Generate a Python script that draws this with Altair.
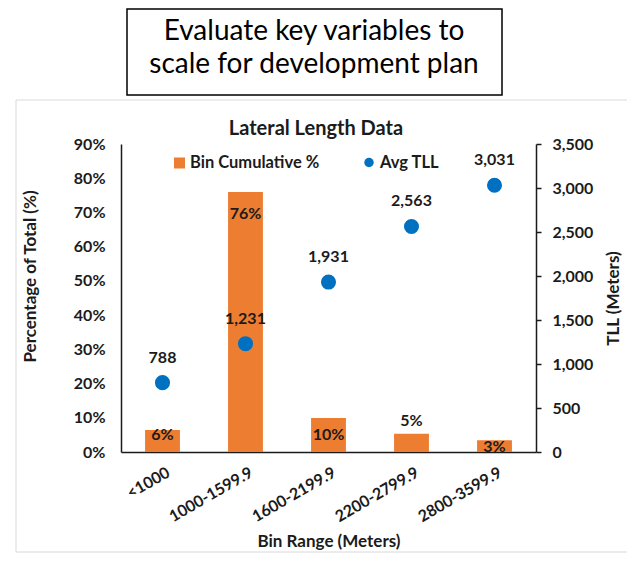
import altair as alt
import pandas as pd

# ---- data ----
categories = ["<1000", "1000-1599.9", "1600-2199.9", "2200-2799.9", "2800-3599.9"]
bin_pct = [0.064, 0.760, 0.099, 0.053, 0.034]
avg_tll = [788, 1231, 1931, 2563, 3031]
pct_label_at = [0.050, 0.695, 0.050, 0.091, 0.015]
pct_ticks = [0.0, 0.1, 0.2, 0.3, 0.4, 0.5, 0.6, 0.7, 0.8, 0.9]
tll_ticks = [0, 500, 1000, 1500, 2000, 2500, 3000, 3500]

ORANGE = "#ED7D31"
BLUE = "#0070C0"
INK = "#1b1b1b"
FONT = "Lato"
W, H = 415, 308

df = pd.DataFrame({"bin": categories, "pct": bin_pct, "tll": avg_tll,
                   "label_at": pct_label_at})
one = alt.Data(values=[{"k": 1}])

x_axis = alt.Axis(title="Bin Range (Meters)", labelAngle=-30, labelAlign="right",
                  labelBaseline="top", labelPadding=12, labelOffset=2, ticks=False,
                  domainColor=INK, domainWidth=1.5,
                  titleX=W / 2, titleY=89, titleAlign="center", titleBaseline="middle")
x_scale = alt.Scale(paddingInner=0.58, paddingOuter=0.29)

left_axis = alt.Axis(orient="left", format=".0%", values=pct_ticks, grid=False,
                     ticks=False, labelPadding=16, domainColor=INK, domainWidth=1.5,
                     title="Percentage of Total (%)", titleAngle=270,
                     titleX=-91, titleY=132, titleAlign="center", titleBaseline="middle")
left_scale = alt.Scale(domain=[0, 0.9], nice=False, zero=True)

right_axis = alt.Axis(orient="right", format=",.0f", values=tll_ticks, grid=False,
                      tickSize=5, tickColor=INK, tickWidth=1.5, labelPadding=11,
                      domainColor=INK, domainWidth=1.5,
                      title="TLL (Meters)", titleAngle=270, titleX=77,
                      titleY=H / 2, titleAlign="center", titleBaseline="middle")
right_scale = alt.Scale(domain=[0, 3500], nice=False)

x_enc = alt.X("bin:N", sort=categories, scale=x_scale, axis=x_axis)

bars = alt.Chart(df).mark_bar(color=ORANGE).encode(
    x=x_enc,
    y=alt.Y("pct:Q", scale=left_scale, axis=left_axis),
)
bar_labels = alt.Chart(df).mark_text(
    font=FONT, fontSize=16, fontWeight="bold", color=INK, baseline="middle"
).encode(
    x=x_enc,
    y=alt.Y("label_at:Q", scale=left_scale, axis=left_axis),
    text=alt.Text("pct:Q", format=".0%"),
)
left = alt.layer(bars, bar_labels)

points = alt.Chart(df).mark_circle(size=227, color=BLUE, opacity=1).encode(
    x=x_enc,
    y=alt.Y("tll:Q", scale=right_scale, axis=right_axis),
)
point_labels = alt.Chart(df).mark_text(
    font=FONT, fontSize=16, fontWeight="bold", color=INK, baseline="middle", dy=-25
).encode(
    x=x_enc,
    y=alt.Y("tll:Q", scale=right_scale, axis=right_axis),
    text=alt.Text("tll:Q", format=",.0f"),
)
right = alt.layer(points, point_labels)

# ---- decorations (frame, heading box, chart title, legend) ----
frame = alt.Chart(one).mark_rect(fillOpacity=0, stroke="#d9d9d9", strokeWidth=1).encode(
    x=alt.value(-105), x2=alt.value(W + 120), y=alt.value(-44), y2=alt.value(H + 100))
box = alt.Chart(one).mark_rect(fill="white", stroke="black", strokeWidth=1.5).encode(
    x=alt.value(6), x2=alt.value(381), y=alt.value(-135), y2=alt.value(-49))
box_l1 = alt.Chart(one).mark_text(font=FONT, fontSize=28, color="black",
                                   baseline="alphabetic", align="center").encode(
    x=alt.value(193), y=alt.value(-104), text=alt.value("Evaluate key variables to"))
box_l2 = alt.Chart(one).mark_text(font=FONT, fontSize=28, color="black",
                                   baseline="alphabetic", align="center").encode(
    x=alt.value(193), y=alt.value(-71), text=alt.value("scale for development plan"))
title = alt.Chart(one).mark_text(font=FONT, fontSize=20, fontWeight="bold", color=INK,
                                  baseline="middle", align="center").encode(
    x=alt.value(195), y=alt.value(-15), text=alt.value("Lateral Length Data"))
leg_sq = alt.Chart(one).mark_square(size=121, color=ORANGE, opacity=1).encode(
    x=alt.value(58.5), y=alt.value(19))
leg_sq_t = alt.Chart(one).mark_text(font=FONT, fontSize=16.5, fontWeight="bold", color=INK,
                                     baseline="middle", align="left").encode(
    x=alt.value(69), y=alt.value(19), text=alt.value("Bin Cumulative %"))
leg_dot = alt.Chart(one).mark_circle(size=90, color=BLUE, opacity=1).encode(
    x=alt.value(248), y=alt.value(18.5))
leg_dot_t = alt.Chart(one).mark_text(font=FONT, fontSize=16.5, fontWeight="bold", color=INK,
                                      baseline="middle", align="left").encode(
    x=alt.value(259), y=alt.value(19), text=alt.value("Avg TLL"))

chart = alt.layer(
    frame, box, box_l1, box_l2, title, left, right, leg_sq, leg_sq_t, leg_dot, leg_dot_t
).resolve_scale(y="independent").properties(
    width=W, height=H,
    padding={"left": 113, "top": 136, "right": 91, "bottom": 101},
    autosize=alt.AutoSizeParams(type="none"),
    background="white",
).configure_view(stroke=None).configure_axis(
    labelFont=FONT, labelFontSize=16, labelFontWeight="bold", labelColor=INK,
    titleFont=FONT, titleFontSize=17, titleFontWeight="bold", titleColor=INK,
)

chart.save("out.html", embed_options={"renderer": "svg", "actions": False})
